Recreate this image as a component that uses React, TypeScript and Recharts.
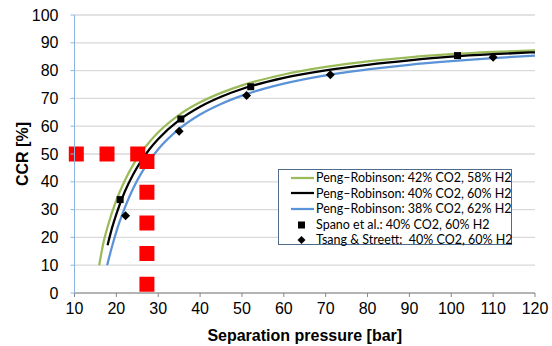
import { ComposedChart, Line, Scatter, XAxis, YAxis, CartesianGrid } from "recharts";

// Peng–Robinson curves (pressure [bar], CCR [%])
const prGreen = [
  { x: 15.9, y: 10 }, { x: 17, y: 18.7 }, { x: 18, y: 24.3 }, { x: 20, y: 33.4 }, { x: 22, y: 40.4 },
  { x: 24, y: 46.1 }, { x: 26, y: 50.7 }, { x: 28, y: 54.5 }, { x: 30, y: 57.8 }, { x: 35, y: 64.1 },
  { x: 40, y: 68.6 }, { x: 45, y: 72.0 }, { x: 50, y: 74.7 }, { x: 60, y: 78.6 }, { x: 70, y: 81.3 },
  { x: 80, y: 83.3 }, { x: 90, y: 84.8 }, { x: 100, y: 85.9 }, { x: 110, y: 86.7 }, { x: 120, y: 87.3 },
];
const prBlack = [
  { x: 17.9, y: 17.2 }, { x: 19, y: 23.6 }, { x: 20, y: 28.4 }, { x: 22, y: 36.4 }, { x: 24, y: 42.6 },
  { x: 26, y: 47.7 }, { x: 28, y: 51.9 }, { x: 30, y: 55.4 }, { x: 35, y: 62.2 }, { x: 40, y: 67.0 },
  { x: 45, y: 70.6 }, { x: 50, y: 73.4 }, { x: 60, y: 77.4 }, { x: 70, y: 80.1 }, { x: 80, y: 82.1 },
  { x: 90, y: 83.7 }, { x: 100, y: 85.0 }, { x: 110, y: 85.9 }, { x: 120, y: 86.6 },
];
const prBlue = [
  { x: 17.8, y: 10 }, { x: 19, y: 16.9 }, { x: 20, y: 22.1 }, { x: 22, y: 30.6 }, { x: 24, y: 37.6 },
  { x: 26, y: 43.2 }, { x: 28, y: 47.8 }, { x: 30, y: 51.7 }, { x: 35, y: 59.0 }, { x: 40, y: 64.2 },
  { x: 45, y: 68.0 }, { x: 50, y: 71.0 }, { x: 60, y: 75.3 }, { x: 70, y: 78.3 }, { x: 80, y: 80.4 },
  { x: 90, y: 82.1 }, { x: 100, y: 83.4 }, { x: 110, y: 84.5 }, { x: 120, y: 85.4 },
];

// measured points
const spano = [
  { x: 20.9, y: 33.6 }, { x: 35.4, y: 62.6 }, { x: 52.1, y: 74.2 }, { x: 101.5, y: 85.4 },
];
const tsang = [
  { x: 22.2, y: 27.8 }, { x: 35.0, y: 58.2 }, { x: 51.1, y: 71.0 }, { x: 71.1, y: 78.5 }, { x: 110.0, y: 84.8 },
];

// red dashed guide lines at CCR 50 %
const guideH = [{ x: 10, y: 50 }, { x: 27.3, y: 50 }];
const guideV = [{ x: 27.3, y: 50 }, { x: 27.3, y: 0 }];

const xTicks = [10, 20, 30, 40, 50, 60, 70, 80, 90, 100, 110, 120];
const yTicks = [0, 10, 20, 30, 40, 50, 60, 70, 80, 90, 100];

const legendItems = [
  { name: "Peng–Robinson: 42% CO2, 58% H2", kind: "line", color: "#9BBB59" },
  { name: "Peng–Robinson: 40% CO2, 60% H2", kind: "line", color: "#000000" },
  { name: "Peng–Robinson: 38% CO2, 62% H2", kind: "line", color: "#5B93D8" },
  { name: "Spano et al.: 40% CO2, 60% H2", kind: "square", color: "#000000" },
  { name: "Tsang & Streett:  40% CO2, 60% H2", kind: "diamond", color: "#000000" },
];

const FONT = "'Liberation Sans', Arial, sans-serif";

const Square = (p: any) => <rect x={p.cx - 3.5} y={p.cy - 3.5} width={7} height={7} fill="#000" />;
const Diamond = (p: any) => (
  <polygon points={`${p.cx},${p.cy - 4.5} ${p.cx + 4.5},${p.cy} ${p.cx},${p.cy + 4.5} ${p.cx - 4.5},${p.cy}`} fill="#000" />
);

function LegendBox() {
  return (
    <div style={{ position: "absolute", left: 278, top: 169, width: 234, height: 76, boxSizing: "border-box", border: "1px solid #4F6B8A", background: "#fff", fontFamily: "Lato, sans-serif", fontSize: 12.5, color: "#000" }}>
      {legendItems.map(it => (
        <div key={it.name} style={{ display: "flex", alignItems: "center", height: 15.6, lineHeight: "15.6px", whiteSpace: "pre" }}>
          <svg width={36} height={10} style={{ flex: "none" }}>
            {it.kind === "line" && <line x1={12} y1={5} x2={35} y2={5} stroke={it.color} strokeWidth={2.25} />}
            {it.kind === "square" && <rect x={19} y={1.5} width={7} height={7} fill="#000" />}
            {it.kind === "diamond" && <polygon points="22.5,1 26.5,5 22.5,9 18.5,5" fill="#000" />}
          </svg>
          <span style={{ marginLeft: 1 }}>{it.name}</span>
        </div>
      ))}
    </div>
  );
}

export default function App() {
  return (
    <div style={{ position: "relative", width: 552, height: 346, background: "#fff" }}>
      <style>{`body{margin:0}`}</style>
      <ComposedChart width={552} height={346} margin={{ top: 15, right: 17, bottom: 0, left: 0 }}>
        <CartesianGrid vertical={false} stroke="#D9D9D9" strokeWidth={1.3} />
        <XAxis
          type="number"
          dataKey="x"
          domain={[10, 120]}
          ticks={xTicks}
          height={53}
          stroke="#868686"
          tickSize={4}
          tickMargin={6}
          tick={{ fill: "#000", fontSize: 16, fontFamily: FONT }}
          label={{ value: "Separation pressure [bar]", position: "insideBottom", offset: 5, fill: "#000", fontSize: 16, fontWeight: "bold", fontFamily: FONT }}
        />
        <YAxis
          type="number"
          dataKey="y"
          domain={[0, 100]}
          ticks={yTicks}
          width={74.5}
          stroke="#8EB4E3"
          tickSize={4}
          tickMargin={12}
          tick={{ fill: "#000", fontSize: 16, fontFamily: FONT }}
          label={(props: any) => {
            const vb = props.viewBox;
            const cx = 22;
            const cy = vb.y + vb.height / 2;
            return (
              <text x={cx} y={cy} transform={`rotate(-90 ${cx} ${cy})`} textAnchor="middle" dominantBaseline="central" fontSize={16} fontWeight="bold" fontFamily={FONT} fill="#000">
                CCR [%]
              </text>
            );
          }}
        />
        <Line data={prGreen} dataKey="y" type="monotone" stroke="#9BBB59" strokeWidth={2.25} dot={false} isAnimationActive={false} />
        <Line data={prBlack} dataKey="y" type="monotone" stroke="#000000" strokeWidth={2.25} dot={false} isAnimationActive={false} />
        <Line data={prBlue} dataKey="y" type="monotone" stroke="#5B93D8" strokeWidth={2.25} dot={false} isAnimationActive={false} />
        <Scatter data={spano} dataKey="y" shape={Square} isAnimationActive={false} />
        <Scatter data={tsang} dataKey="y" shape={Diamond} isAnimationActive={false} />
        <Line data={guideH} dataKey="y" type="linear" stroke="#FF0000" strokeWidth={15} strokeLinecap="square" strokeDasharray="0.01 30.7" strokeDashoffset={-1.8} dot={false} isAnimationActive={false} />
        <Line data={guideV} dataKey="y" type="linear" stroke="#FF0000" strokeWidth={15} strokeDasharray="15 15.7" dot={false} isAnimationActive={false} />
      </ComposedChart>
      <LegendBox />
    </div>
  );
}
